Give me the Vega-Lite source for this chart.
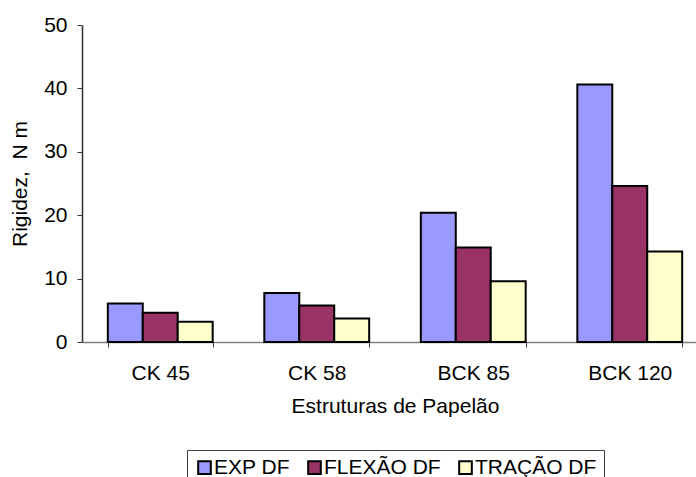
{
  "$schema": "https://vega.github.io/schema/vega-lite/v6.json",
  "width": 614,
  "height": 317,
  "autosize": {"type": "none"},
  "padding": {"left": 82, "top": 25, "right": 0, "bottom": 135},
  "config": {
    "view": {"stroke": null},
    "font": "Liberation Sans",
    "text": {"font": "Liberation Sans"}
  },
  "data": {
    "values": [
      {"estrutura": "CK 45", "serie": "EXP DF", "valor": 6.06},
      {"estrutura": "CK 45", "serie": "FLEXÃO DF", "valor": 4.63},
      {"estrutura": "CK 45", "serie": "TRAÇÃO DF", "valor": 3.2},
      {"estrutura": "CK 58", "serie": "EXP DF", "valor": 7.73},
      {"estrutura": "CK 58", "serie": "FLEXÃO DF", "valor": 5.74},
      {"estrutura": "CK 58", "serie": "TRAÇÃO DF", "valor": 3.69},
      {"estrutura": "BCK 85", "serie": "EXP DF", "valor": 20.4},
      {"estrutura": "BCK 85", "serie": "FLEXÃO DF", "valor": 14.9},
      {"estrutura": "BCK 85", "serie": "TRAÇÃO DF", "valor": 9.6},
      {"estrutura": "BCK 120", "serie": "EXP DF", "valor": 40.6},
      {"estrutura": "BCK 120", "serie": "FLEXÃO DF", "valor": 24.6},
      {"estrutura": "BCK 120", "serie": "TRAÇÃO DF", "valor": 14.26}
    ]
  },
  "mark": {"type": "bar", "stroke": "black", "strokeWidth": 2, "opacity": 1},
  "encoding": {
    "x": {
      "field": "estrutura",
      "type": "nominal",
      "sort": ["CK 45", "CK 58", "BCK 85", "BCK 120"],
      "scale": {"range": [0, 626], "paddingInner": 0.33, "paddingOuter": 0.165},
      "axis": {
        "title": "Estruturas de Papelão",
        "titleFont": "Liberation Sans",
        "titleFontSize": 21,
        "titleFontWeight": "normal",
        "titleColor": "black",
        "titlePadding": 12,
        "labelFont": "Liberation Sans",
        "labelFontSize": 21,
        "labelColor": "black",
        "labelAngle": 0,
        "labelPadding": 15,
        "tickBand": "extent",
        "tickSize": 5,
        "tickColor": "#404040",
        "domainColor": "#808080",
        "domainWidth": 1.5,
        "grid": false
      }
    },
    "xOffset": {
      "field": "serie",
      "type": "nominal",
      "sort": ["EXP DF", "FLEXÃO DF", "TRAÇÃO DF"],
      "scale": {"paddingInner": 0, "paddingOuter": 0}
    },
    "y": {
      "field": "valor",
      "type": "quantitative",
      "scale": {"domain": [0, 50], "nice": false},
      "axis": {
        "title": "Rigidez,\u00a0 N m",
        "titleFont": "Liberation Sans",
        "titleFontSize": 21,
        "titleFontWeight": "normal",
        "titleColor": "black",
        "titlePadding": 13,
        "labelFont": "Liberation Sans",
        "labelFontSize": 21,
        "labelColor": "black",
        "labelPadding": 10,
        "values": [0, 10, 20, 30, 40, 50],
        "tickSize": 5,
        "tickColor": "#303030",
        "domainColor": "#303030",
        "domainWidth": 1.5,
        "grid": false
      }
    },
    "color": {
      "field": "serie",
      "type": "nominal",
      "sort": ["EXP DF", "FLEXÃO DF", "TRAÇÃO DF"],
      "scale": {
        "domain": ["EXP DF", "FLEXÃO DF", "TRAÇÃO DF"],
        "range": ["#9999FF", "#993366", "#FFFFCC"]
      },
      "legend": {
        "title": null,
        "orient": "none",
        "legendX": 105,
        "legendY": 425,
        "direction": "horizontal",
        "strokeColor": "#404040",
        "padding": 7,
        "symbolType": "square",
        "symbolSize": 160,
        "symbolStrokeColor": "black",
        "symbolStrokeWidth": 2,
        "symbolOpacity": 1,
        "labelFont": "Liberation Sans",
        "labelFontSize": 21,
        "labelColor": "black",
        "labelOffset": -1,
        "columnPadding": 14
      }
    }
  }
}
